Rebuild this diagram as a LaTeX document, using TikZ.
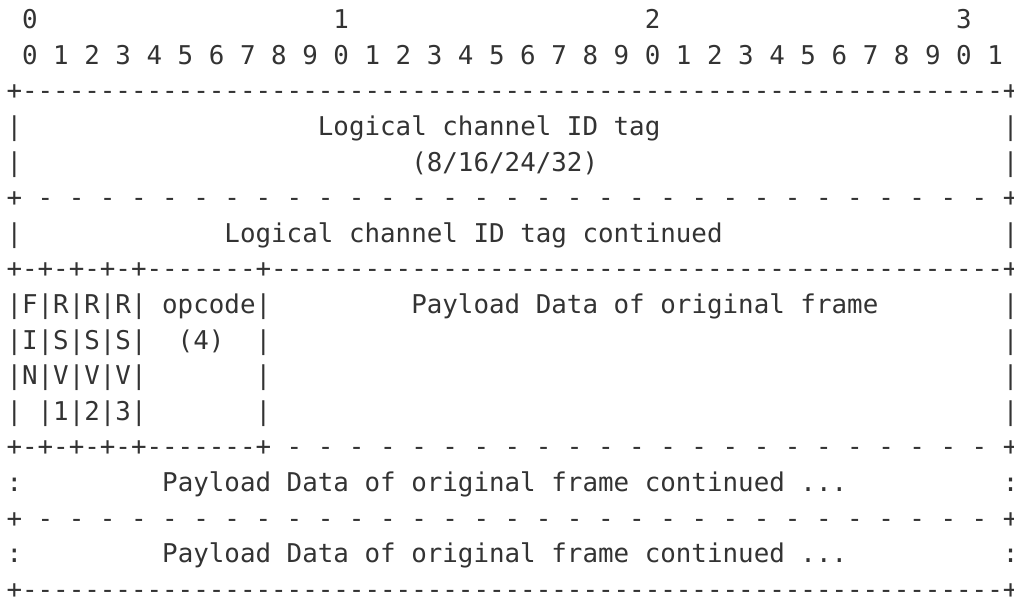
\documentclass[tikz,border=0pt]{standalone}
\usepackage{fontspec}
\setmonofont{DejaVu Sans Mono}
\usepackage{xcolor}
\definecolor{rfcink}{HTML}{333333}

% repeated pieces of the ascii art
\newcommand{\blanks}[1]{\foreach \k in {1,...,#1}{\ }}
\newcommand{\dashes}[1]{\foreach \k in {1,...,#1}{-}}
\newcommand{\dotrule}[1]{\foreach \k in {1,...,#1}{\ -}}

\begin{document}
\frenchspacing
\begin{tikzpicture}[x=1pt, y=1pt,
  rfcrow/.style={anchor=base west, inner sep=0pt, outer sep=0pt, text=rfcink,
    font=\ttfamily\fontsize{25.86}{35.6}\selectfont}]
\def\colzero{6.5}
\def\rowtop{570.2}
\def\rowgap{35.6}
\useasboundingbox (0,0) rectangle (1014,599);

% bit ruler
\node[rfcrow] (tens)  at (\colzero,{\rowtop-0*\rowgap}) {\ 0\blanks{19}1\blanks{19}2\blanks{19}3};
\node[rfcrow] (units) at (\colzero,{\rowtop-1*\rowgap}) {\ 0\ 1\ 2\ 3\ 4\ 5\ 6\ 7\ 8\ 9\ 0\ 1\ 2\ 3\ 4\ 5\ 6\ 7\ 8\ 9\ 0\ 1\ 2\ 3\ 4\ 5\ 6\ 7\ 8\ 9\ 0\ 1};

% logical channel ID tag
\node[rfcrow] (top)    at (\colzero,{\rowtop-2*\rowgap}) {+\dashes{63}+};
\node[rfcrow] (tag)    at (\colzero,{\rowtop-3*\rowgap}) {|\blanks{19}Logical channel ID tag\blanks{22}|};
\node[rfcrow] (taglen) at (\colzero,{\rowtop-4*\rowgap}) {|\blanks{25}(8/16/24/32)\blanks{26}|};
\node[rfcrow] (tagcut) at (\colzero,{\rowtop-5*\rowgap}) {+\dotrule{31}\ +};
\node[rfcrow] (tagmore) at (\colzero,{\rowtop-6*\rowgap}) {|\blanks{13}Logical channel ID tag continued\blanks{18}|};

% flags, opcode and first payload word
\node[rfcrow] (hdtop) at (\colzero,{\rowtop-7*\rowgap}) {+-+-+-+-+-------+\dashes{47}+};
\node[rfcrow] (hdA) at (\colzero,{\rowtop-8*\rowgap}) {|F|R|R|R|\ opcode|\blanks{9}Payload Data of original frame\blanks{8}|};
\node[rfcrow] (hdB) at (\colzero,{\rowtop-9*\rowgap}) {|I|S|S|S|\blanks{2}(4)\blanks{2}|\blanks{47}|};
\node[rfcrow] (hdC) at (\colzero,{\rowtop-10*\rowgap}) {|N|V|V|V|\blanks{7}|\blanks{47}|};
\node[rfcrow] (hdD) at (\colzero,{\rowtop-11*\rowgap}) {|\ |1|2|3|\blanks{7}|\blanks{47}|};
\node[rfcrow] (hdcut) at (\colzero,{\rowtop-12*\rowgap}) {+-+-+-+-+-------+\dotrule{23}\ +};

% payload continued
\node[rfcrow] (moreA) at (\colzero,{\rowtop-13*\rowgap}) {:\blanks{9}Payload Data of original frame continued ...\blanks{10}:};
\node[rfcrow] (morecut) at (\colzero,{\rowtop-14*\rowgap}) {+\dotrule{31}\ +};
\node[rfcrow] (moreB) at (\colzero,{\rowtop-15*\rowgap}) {:\blanks{9}Payload Data of original frame continued ...\blanks{10}:};
\node[rfcrow] (bottom) at (\colzero,{\rowtop-16*\rowgap}) {+\dashes{63}+};
\end{tikzpicture}
\end{document}
